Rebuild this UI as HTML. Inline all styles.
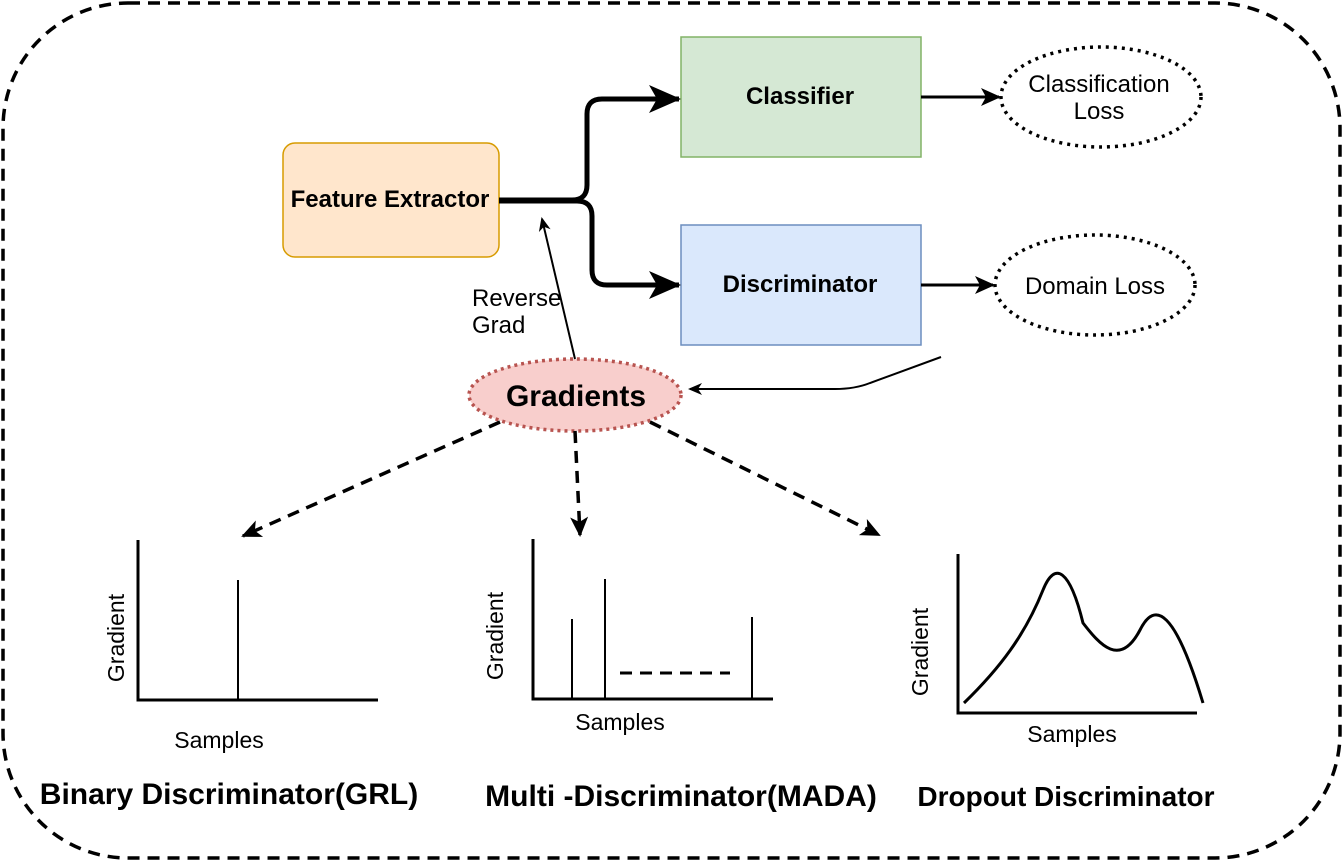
<!DOCTYPE html>
<html><head><meta charset="utf-8"><style>
html,body{margin:0;padding:0;background:#fff;}
svg{display:block;font-family:"Liberation Sans",Arial,sans-serif;}
</style></head><body>
<svg width="1342" height="860" viewBox="0 0 1342 860" xmlns="http://www.w3.org/2000/svg">
<defs>
<marker id="big" markerWidth="32" markerHeight="32" refX="30" refY="16" orient="auto" markerUnits="userSpaceOnUse"><path d="M0,2 L32,16 L0,30 L8,16 Z" fill="#000"/></marker>
<marker id="m" markerWidth="20" markerHeight="20" refX="18" refY="10" orient="auto" markerUnits="userSpaceOnUse"><path d="M0,1 L20,10 L0,19 L5,10 Z" fill="#000"/></marker>
<marker id="s" markerWidth="14" markerHeight="14" refX="12" refY="7" orient="auto" markerUnits="userSpaceOnUse"><path d="M0,1 L14,7 L0,13 L4,7 Z" fill="#000"/></marker>
</defs>
<rect x="3" y="3" width="1337" height="855" rx="125" fill="#fff" stroke="#000" stroke-width="3.5" stroke-dasharray="12,8"/>
<rect x="283" y="143" width="216" height="114" rx="12" fill="#ffe6cc" stroke="#d79b00" stroke-width="1.5"/>
<text x="390" y="207" text-anchor="middle" font-size="24" font-weight="bold">Feature Extractor</text>
<rect x="681" y="37" width="240" height="120" fill="#d5e8d4" stroke="#82b366" stroke-width="1.5"/>
<text x="800" y="104" text-anchor="middle" font-size="24" font-weight="bold">Classifier</text>
<rect x="681" y="225" width="240" height="120" fill="#dae8fc" stroke="#6c8ebf" stroke-width="1.5"/>
<text x="800" y="292" text-anchor="middle" font-size="24" font-weight="bold">Discriminator</text>
<ellipse cx="1101" cy="97" rx="100" ry="50" fill="#fff" stroke="#000" stroke-width="3.5" stroke-dasharray="3,5"/>
<text x="1099" y="92" text-anchor="middle" font-size="24">Classification</text>
<text x="1099" y="119" text-anchor="middle" font-size="24">Loss</text>
<ellipse cx="1095" cy="285" rx="100" ry="50" fill="#fff" stroke="#000" stroke-width="3.5" stroke-dasharray="3,5"/>
<text x="1095" y="294" text-anchor="middle" font-size="24">Domain Loss</text>
<path d="M499,200 L572,200 Q587,200 587,185 L587,114 Q587,99 602,99 L679,99" fill="none" stroke="#000" stroke-width="5" marker-end="url(#big)"/>
<path d="M499,201 L577,201 Q592,201 592,216 L592,270 Q592,285 607,285 L679,285" fill="none" stroke="#000" stroke-width="5" marker-end="url(#big)"/>
<line x1="921" y1="97" x2="999" y2="97" stroke="#000" stroke-width="3" marker-end="url(#m)"/>
<line x1="921" y1="285" x2="993" y2="285" stroke="#000" stroke-width="3" marker-end="url(#m)"/>
<path d="M941,357 L870,383 Q855,389 835,389 L690,389" fill="none" stroke="#000" stroke-width="2" marker-end="url(#s)"/>
<ellipse cx="575" cy="395" rx="106" ry="36" fill="#f8cecc" stroke="#b85450" stroke-width="3.5" stroke-dasharray="3,4"/>
<text x="576" y="406" text-anchor="middle" font-size="30" font-weight="bold">Gradients</text>
<line x1="575" y1="359" x2="542" y2="219" stroke="#000" stroke-width="2" marker-end="url(#s)"/>
<text x="472" y="306" font-size="24">Reverse</text>
<text x="472" y="333" font-size="24">Grad</text>
<line x1="500" y1="422" x2="243" y2="536" stroke="#000" stroke-width="3.5" stroke-dasharray="12,8" marker-end="url(#m)"/>
<line x1="575" y1="431" x2="580" y2="535" stroke="#000" stroke-width="3.5" stroke-dasharray="12,8" marker-end="url(#m)"/>
<line x1="650" y1="422" x2="879" y2="535" stroke="#000" stroke-width="3.5" stroke-dasharray="12,8" marker-end="url(#m)"/>
<path d="M138,540 L138,700 L378,700" fill="none" stroke="#000" stroke-width="3"/>
<line x1="238" y1="580" x2="238" y2="700" stroke="#000" stroke-width="2"/>
<text transform="translate(124,638) rotate(-90)" text-anchor="middle" font-size="23">Gradient</text>
<text x="219" y="748" text-anchor="middle" font-size="23">Samples</text>
<text x="229" y="804" text-anchor="middle" font-size="30" font-weight="bold">Binary Discriminator(GRL)</text>
<path d="M533,539 L533,699 L773,699" fill="none" stroke="#000" stroke-width="3"/>
<line x1="572" y1="619" x2="572" y2="699" stroke="#000" stroke-width="2"/>
<line x1="605" y1="579" x2="605" y2="699" stroke="#000" stroke-width="2"/>
<line x1="752" y1="617" x2="752" y2="699" stroke="#000" stroke-width="2"/>
<line x1="620" y1="673" x2="730" y2="673" stroke="#000" stroke-width="3" stroke-dasharray="12,8"/>
<text transform="translate(503,636) rotate(-90)" text-anchor="middle" font-size="23">Gradient</text>
<text x="620" y="730" text-anchor="middle" font-size="23">Samples</text>
<text x="681" y="806" text-anchor="middle" font-size="30" font-weight="bold">Multi -Discriminator(MADA)</text>
<path d="M958,554 L958,713 L1197,713" fill="none" stroke="#000" stroke-width="3"/>
<path d="M964,703 C1000,668 1025,635 1043,590 C1055,560 1070,570 1083,623 C1100,645 1120,668 1140,630 C1155,600 1175,610 1203,703" fill="none" stroke="#000" stroke-width="3"/>
<text transform="translate(928,652) rotate(-90)" text-anchor="middle" font-size="23">Gradient</text>
<text x="1072" y="742" text-anchor="middle" font-size="23">Samples</text>
<text x="1066" y="806" text-anchor="middle" font-size="28" font-weight="bold">Dropout Discriminator</text>
</svg>
</body></html>
